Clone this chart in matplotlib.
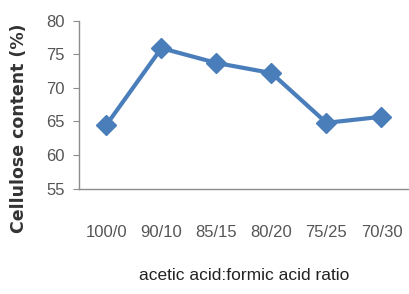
import matplotlib
matplotlib.use("Agg")
import matplotlib.pyplot as plt

ratios = ["100/0", "90/10", "85/15", "80/20", "75/25", "70/30"]
cellulose = [64.5, 75.9, 73.7, 72.2, 64.8, 65.7]
yticks = [55, 60, 65, 70, 75, 80]

tick_font = "Liberation Sans"

fig = plt.figure(figsize=(4.09, 2.94), dpi=100)
ax = fig.add_axes([0.193, 0.358, 0.807, 0.572])

x = range(len(ratios))
ax.plot(x, cellulose, color="#4a7ebb", linewidth=3.0, marker="D",
        markersize=10, markeredgecolor="#4a7ebb", markerfacecolor="#4a7ebb")

ax.set_xlim(-0.5, 5.5)
ax.set_ylim(55, 80)
ax.set_yticks(yticks)
ax.set_xticks(list(x))
ax.set_xticklabels(ratios, fontsize=12, family=tick_font, color="#555555")
ax.set_yticklabels([str(v) for v in yticks], fontsize=12, family=tick_font, color="#555555")

for s in ["top", "right"]:
    ax.spines[s].set_visible(False)
for s in ["left", "bottom"]:
    ax.spines[s].set_color("#8c8c8c")
    ax.spines[s].set_linewidth(1.0)

ax.tick_params(axis="y", direction="out", length=4, color="#8c8c8c", pad=6)
ax.tick_params(axis="x", length=0, pad=26)

ax.set_ylabel("Cellulose content (%)", fontsize=12.5, fontweight="bold",
              color="#333333")
ax.yaxis.set_label_coords(-0.155, 0.36)
ax.set_xlabel("acetic acid:formic acid ratio", fontsize=12.5, family=tick_font,
              color="#222222", labelpad=20)

fig.savefig("out.png", dpi=100)
